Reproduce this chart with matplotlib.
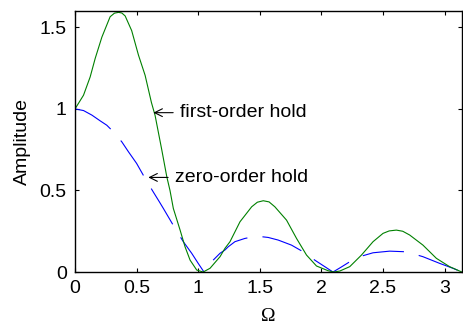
import matplotlib
matplotlib.use('Agg')
import matplotlib.pyplot as plt

# first-order hold amplitude, read at a set of frequencies
foh_w = [0.0, 0.069, 0.123, 0.164, 0.218, 0.285, 0.32, 0.353, 0.38, 0.407,
         0.46, 0.515, 0.569, 0.62, 0.65, 0.704, 0.745, 0.771, 0.798, 0.853,
         0.893, 0.934, 0.988, 1.04, 1.096, 1.177, 1.217, 1.258, 1.339, 1.434,
         1.48, 1.528, 1.575, 1.622, 1.717, 1.798, 1.879, 1.96, 2.054, 2.1,
         2.149, 2.23, 2.325, 2.419, 2.5, 2.55, 2.608, 2.66, 2.716, 2.824,
         2.933, 3.04, 3.14]
foh_amp = [1.0, 1.084, 1.196, 1.31, 1.44, 1.565, 1.587, 1.592, 1.588, 1.57,
           1.48, 1.33, 1.206, 1.04, 0.96, 0.75, 0.584, 0.50, 0.39, 0.257,
           0.155, 0.073, 0.012, 0.0, 0.023, 0.094, 0.145, 0.186, 0.308, 0.40,
           0.428, 0.437, 0.43, 0.40, 0.318, 0.206, 0.104, 0.037, 0.008, 0.0,
           0.006, 0.033, 0.104, 0.186, 0.237, 0.252, 0.257, 0.25, 0.227, 0.165,
           0.084, 0.033, 0.0]

# zero-order hold amplitude
zoh_w = [0.0, 0.069, 0.137, 0.204, 0.258, 0.298, 0.38, 0.434, 0.50, 0.569,
         0.636, 0.685, 0.717, 0.812, 0.879, 0.947, 1.0, 1.047, 1.082, 1.177,
         1.217, 1.244, 1.298, 1.379, 1.474, 1.568, 1.649, 1.757, 1.852, 1.946,
         2.027, 2.094, 2.16, 2.23, 2.31, 2.419, 2.554, 2.69, 2.824, 2.96,
         3.067, 3.14]
zoh_amp = [1.0, 0.99, 0.962, 0.927, 0.90, 0.87, 0.798, 0.737, 0.666, 0.574,
           0.49, 0.43, 0.39, 0.268, 0.186, 0.115, 0.053, 0.0, 0.043, 0.115,
           0.135, 0.155, 0.186, 0.206, 0.22, 0.212, 0.196, 0.165, 0.124, 0.073,
           0.033, 0.0, 0.03, 0.063, 0.094, 0.118, 0.128, 0.124, 0.094, 0.053,
           0.023, 0.0]

xticks = [0, 0.5, 1, 1.5, 2, 2.5, 3]
yticks = [0, 0.5, 1, 1.5]

plt.rcParams['font.family'] = ['Liberation Sans', 'DejaVu Sans']
plt.rcParams['font.size'] = 14
plt.rcParams['lines.scale_dashes'] = False

fig = plt.figure(figsize=(4.63, 3.25), dpi=100)
ax = fig.add_axes([0.162, 0.163, 0.836, 0.803])

ax.plot(zoh_w, zoh_amp, color='blue', linewidth=0.8, linestyle=(0, (30, 11)))
ax.plot(foh_w, foh_amp, color='#008000', linewidth=0.8)

ax.set_xlim(0, 3.1416)
ax.set_ylim(0, 1.6)
ax.set_xticks(xticks)
ax.set_xticklabels(['0', '0.5', '1', '1.5', '2', '2.5', '3'])
ax.set_yticks(yticks)
ax.set_yticklabels(['0', '0.5', '1', '1.5'])
ax.tick_params(direction='in', length=3, width=0.8, top=True, right=True, pad=6)
for s in ax.spines.values():
    s.set_linewidth(1.0)

ax.set_xlabel('Ω', labelpad=8, fontfamily='Liberation Serif')
ax.set_ylabel('Amplitude', labelpad=6)

arrow = dict(arrowstyle='->', color='black', linewidth=0.8,
             shrinkA=3, shrinkB=0)
ax.annotate('first-order hold', xy=(0.636, 0.977), xytext=(0.853, 0.977),
            va='center', ha='left', arrowprops=arrow)
ax.annotate('zero-order hold', xy=(0.595, 0.58), xytext=(0.812, 0.58),
            va='center', ha='left', arrowprops=arrow)

fig.savefig('out.png', dpi=100)
